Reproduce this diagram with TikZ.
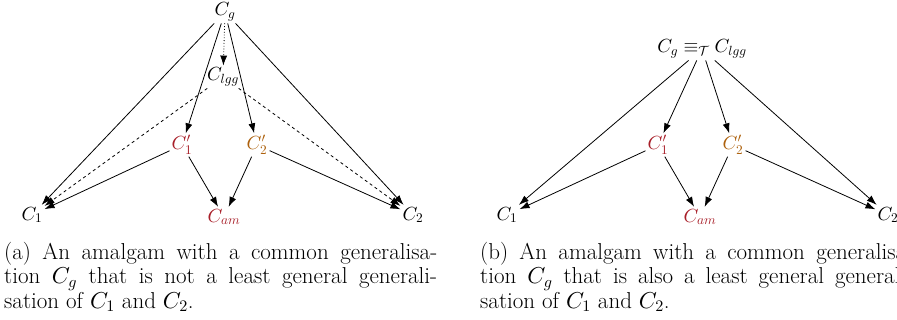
\documentclass[tikz,border=0pt]{standalone}
\DeclareFontShape{OML}{cmm}{m}{it}{<->cmmi10}{}
\DeclareFontShape{OMS}{cmsy}{m}{n}{<->cmsy10}{}
\DeclareFontShape{OT1}{cmr}{m}{n}{<->cmr10}{}
\usetikzlibrary{arrows.meta}
\definecolor{amred}{rgb}{0.66,0.12,0.16}
\definecolor{amorange}{rgb}{0.68,0.38,0.05}
\begin{document}
\begin{tikzpicture}[
  x=1pt, y=-1pt,
  >={Latex[length=10pt,width=7pt]},
  every node/.style={font=\fontsize{19}{24}\selectfont, inner sep=2pt},
  amr/.style={text=amred},
  amo/.style={text=amorange},
  arr/.style={->, line width=0.8pt},
  subcap/.style={anchor=north west, align=left, inner sep=0pt,
    font=\fontsize{23}{24.5}\selectfont}
]
\clip (0,0) rectangle (897,320);
% (a) C_g is not the lgg
\node (g) at (225,12) {$C_g$};
\node (lgg) at (223,77) {$C_{lgg}$};
\node[amr] (c1p) at (182,145) {$C'_1$};
\node[amo] (c2p) at (257,145) {$C'_2$};
\node (c1) at (32,215) {$C_1$};
\node[amr] (am) at (224,217) {$C_{am}$};
\node (c2) at (413,215) {$C_2$};
\draw[arr] (g) -- (c1);
\draw[arr] (g) -- (c1p);
\draw[arr] (g) -- (c2p);
\draw[arr] (g) -- (c2);
\draw[arr, dotted] (g) -- (lgg);
\draw[arr, dashed] (lgg) -- (c1);
\draw[arr, dashed] (lgg) -- (c2);
\draw[arr] (c1p) -- (c1);
\draw[arr] (c1p) -- (am);
\draw[arr] (c2p) -- (am);
\draw[arr] (c2p) -- (c2);
% (b) C_g is also the lgg
\node (gr) at (702,49) {$C_g \equiv_{\mathcal{T}} C_{lgg}$};
\node[amr] (c1pr) at (658,145) {$C'_1$};
\node[amo] (c2pr) at (733,145) {$C'_2$};
\node (c1r) at (507,215) {$C_1$};
\node[amr] (amr) at (700,217) {$C_{am}$};
\node (c2r) at (888,215) {$C_2$};
\draw[arr] (gr) -- (c1r);
\draw[arr] (gr) -- (c1pr);
\draw[arr] (gr) -- (c2pr);
\draw[arr] (gr) -- (c2r);
\draw[arr] (c1pr) -- (c1r);
\draw[arr] (c1pr) -- (amr);
\draw[arr] (c2pr) -- (amr);
\draw[arr] (c2pr) -- (c2r);
% captions
\node[subcap] (capa) at (4,242) {\makebox[433pt][s]{(a) An amalgam with a common generalisa-}\\
  \makebox[433pt][s]{tion $C_g$ that is not a least general generali-}\\
  sation of $C_1$ and $C_2$.};
\node[subcap] (capb) at (480,242) {\makebox[433pt][s]{(b) An amalgam with a common generalisa-}\\
  \makebox[433pt][s]{tion $C_g$ that is also a least general generali-}\\
  sation of $C_1$ and $C_2$.};
\end{tikzpicture}
\end{document}
